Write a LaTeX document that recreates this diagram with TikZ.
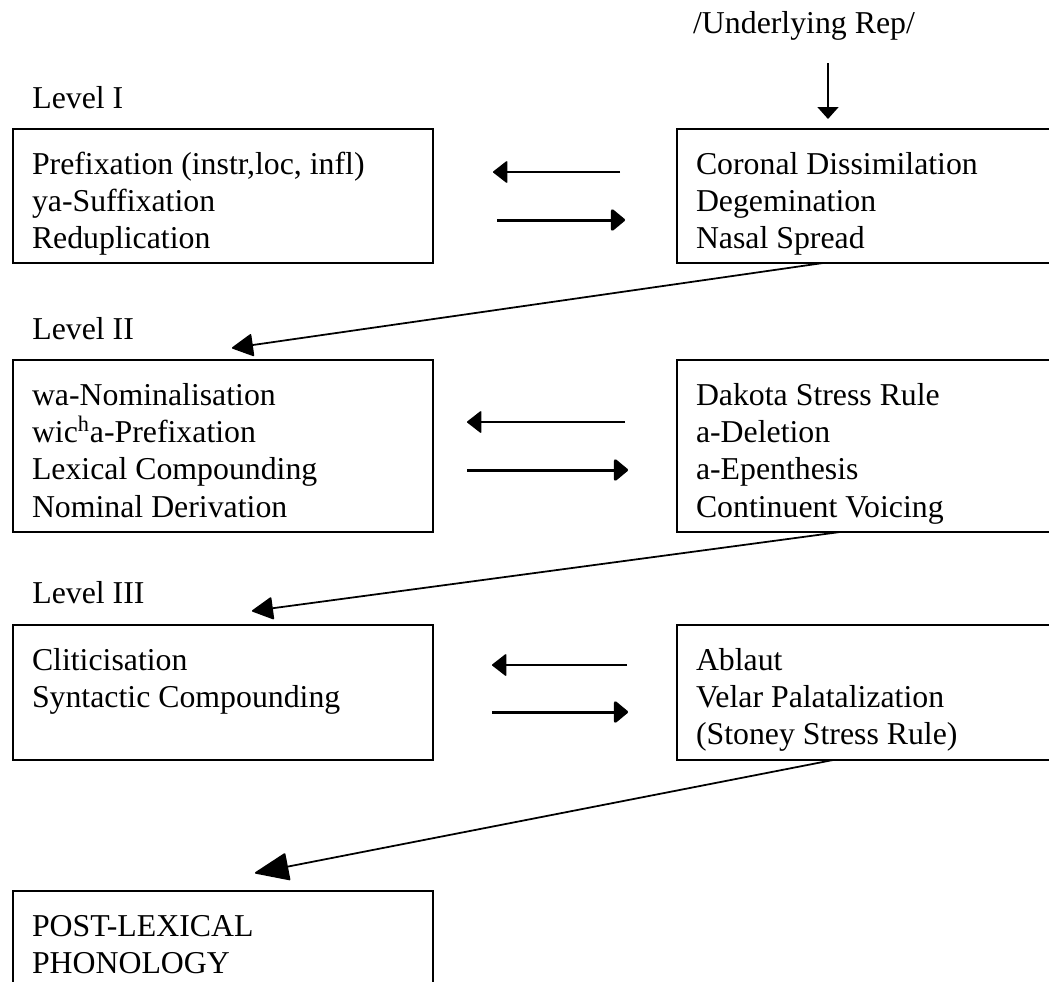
\documentclass[tikz,border=0pt]{standalone}
\usepackage{fontspec}
\setmainfont{Liberation Serif}
\usetikzlibrary{arrows.meta}
\tikzset{
  rulenode/.style={draw,line width=1.1pt,anchor=north west,inner xsep=0.38cm,inner ysep=0pt,outer sep=0pt},
  levelnode/.style={anchor=base west,inner sep=0pt},
  backarrow/.style={-{Triangle[length=3mm,width=4.6mm,round]},line width=0.9pt},
  fwdarrow/.style={-{Triangle[length=3mm,width=4.8mm,round]},line width=1.7pt},
  downarrow/.style={-{Triangle[length=2.4mm,width=4.2mm]},line width=1pt},
  dropdiag/.style={-{Triangle[length=4.4mm,width=4.6mm,round]},line width=1pt}
}
\newcommand{\rulelist}[2]{\parbox[t][#1][t]{7.64cm}{\rule{0pt}{0.9cm}#2}}

\begin{document}
\begin{tikzpicture}[font=\fontsize{18.1}{21.3}\selectfont]
  \clip (0,0) rectangle (20.98,-19.62);
  \node[anchor=base] (urep) at (16.08,-0.66) {/Underlying Rep/};
  \node[levelnode] (lev1) at (0.64,-2.16) {Level I};
  \node[levelnode] (lev2) at (0.64,-6.78) {Level II};
  \node[levelnode] (lev3) at (0.64,-12.06) {Level III};
  \node[rulenode] (c1l) at (0.26,-2.58) {\rulelist{2.68cm}{Prefixation (instr,loc, infl)\\ya-Suffixation\\Reduplication}};
  \node[rulenode] (c1r) at (13.54,-2.58) {\rulelist{2.68cm}{Coronal Dissimilation\\Degemination\\Nasal Spread}};
  \node[rulenode] (c2l) at (0.26,-7.2) {\rulelist{3.44cm}{wa-Nominalisation\\wic\textsuperscript{h}a-Prefixation\\Lexical Compounding\\Nominal Derivation}};
  \node[rulenode] (c2r) at (13.54,-7.2) {\rulelist{3.44cm}{Dakota Stress Rule\\a-Deletion\\a-Epenthesis\\Continuent Voicing}};
  \node[rulenode] (c3l) at (0.26,-12.5) {\rulelist{2.7cm}{Cliticisation\\Syntactic Compounding}};
  \node[rulenode] (c3r) at (13.54,-12.5) {\rulelist{2.7cm}{Ablaut\\Velar Palatalization\\(Stoney Stress Rule)}};
  \node[rulenode] (post) at (0.26,-17.82) {\rulelist{3cm}{POST-LEXICAL\\PHONOLOGY}};
  \coordinate (urfoot) at (16.56,-1.26);
  \draw[downarrow,shorten >=2mm] (urfoot) -- (urfoot |- c1r.north);
  % level I
  \draw[backarrow,shorten <=11.4mm,shorten >=12mm] (c1r.west |- 0,-3.44) -- (c1l.east |- 0,-3.44);
  \draw[fwdarrow,shorten <=12.8mm,shorten >=10.4mm] (c1l.east |- 0,-4.4) -- (c1r.west |- 0,-4.4);
  % level II
  \draw[backarrow,shorten <=10.4mm,shorten >=6.8mm] (c2r.west |- 0,-8.44) -- (c2l.east |- 0,-8.44);
  \draw[fwdarrow,shorten <=6.8mm,shorten >=9.8mm] (c2l.east |- 0,-9.4) -- (c2r.west |- 0,-9.4);
  % level III
  \draw[backarrow,shorten <=10mm,shorten >=11.8mm] (c3r.west |- 0,-13.3) -- (c3l.east |- 0,-13.3);
  \draw[fwdarrow,shorten <=11.8mm,shorten >=9.8mm] (c3l.east |- 0,-14.24) -- (c3r.west |- 0,-14.24);
  % down to the next level
  \draw[dropdiag] ([xshift=2.92cm]c1r.south west) -- ([xshift=4.38cm,yshift=2.4mm]c2l.north west);
  \draw[dropdiag] ([xshift=3.26cm]c2r.south west) -- ([xshift=4.78cm,yshift=2.8mm]c3l.north west);
  \draw[dropdiag,-{Triangle[length=7mm,width=5.6mm,round]}] ([xshift=3.12cm]c3r.south west) -- ([xshift=4.84cm,yshift=3.6mm]post.north west);
\end{tikzpicture}
\end{document}
